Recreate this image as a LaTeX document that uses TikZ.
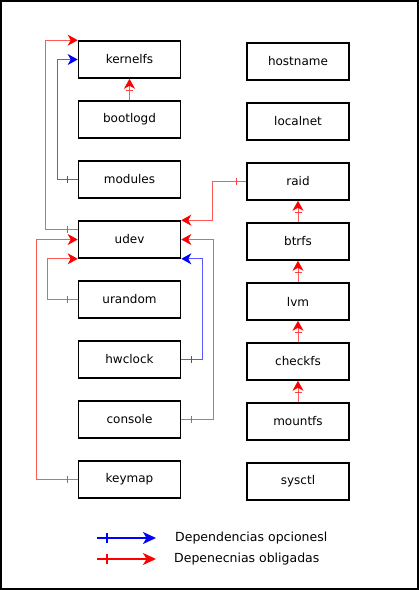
\documentclass[tikz,border=0pt]{standalone}
\usepackage{fontspec}
\setmainfont{DejaVu Sans}
\usetikzlibrary{arrows.meta,calc}
\definecolor{depRed}{HTML}{FF0000}
\definecolor{depBlue}{HTML}{0000FF}
\tikzset{
  box/.style={draw, line width=1.6pt, minimum width=102pt, minimum height=37pt,
    inner sep=0pt, font=\fontsize{12}{14}\selectfont},
  dep/.style={draw=#1!65, line width=1pt,
    -{Stealth[length=10pt,width=11pt,inset=3pt,color=#1]}},
  req/.style={dep=depRed},
  opt/.style={dep=depBlue},
  tick/.style={draw=#1!75, line width=1pt},
  legend/.style={draw=#1, line width=1.8pt, -{Stealth[length=13pt,width=12pt,inset=3.5pt,fill=#1]}},
  legtick/.style={draw=#1, line width=1.4pt}
}
\begin{document}
\begin{tikzpicture}[x=1pt,y=-1pt]
\useasboundingbox (0,0) rectangle (419,590);
\draw[line width=2pt] (1,1) rectangle (418,589);
% left column
\node[box] (kernelfs) at (129.5,59.5) {kernelfs};
\node[box] (bootlogd) at (129.5,119.5) {bootlogd};
\node[box] (modules)  at (129.5,179.5) {modules};
\node[box] (udev)     at (129.5,239.5) {udev};
\node[box] (urandom)  at (129.5,299.5) {urandom};
\node[box] (hwclock)  at (129.5,359.5) {hwclock};
\node[box] (console)  at (129.5,419.5) {console};
\node[box] (keymap)   at (129.5,479.5) {keymap};
% right column
\node[box] (hostname) at (298,61.5)  {hostname};
\node[box] (localnet) at (298,121.5) {localnet};
\node[box] (raid)     at (298,181.5) {raid};
\node[box] (btrfs)    at (298,241.5) {btrfs};
\node[box] (lvm)      at (298,301.5) {lvm};
\node[box] (checkfs)  at (298,361.5) {checkfs};
\node[box] (mountfs)  at (298,421.5) {mountfs};
\node[box] (sysctl)   at (298,481.5) {sysctl};
% dependencies
\coordinate (udevq) at ($(udev.north west)!.25!(udev.south west)$);
\draw[req] (bootlogd.north) -- (kernelfs.south);
\draw[opt] (modules.west) -- ++(-20,0) |- (kernelfs.west);
\draw[req] (udevq) -- ++(-32,0) |- (kernelfs.north west);
\draw[req] (urandom.west) -- ++(-30,0) |- (udev.south west);
\draw[req] (keymap.west) -- ++(-41,0) |- (udev.west);
\draw[opt] (hwclock.east) -- ++(21,0) |- (udev.south east);
\draw[req] (console.east) -- ++(32,0) |- (udev.east);
\draw[req] (raid.west) -- ++(-34,0) |- (udev.north east);
\draw[req] (btrfs.north) -- (raid.south);
\draw[req] (lvm.north) -- (btrfs.south);
\draw[req] (checkfs.north) -- (lvm.south);
\draw[req] (mountfs.north) -- (checkfs.south);
% tail ticks
\draw[tick=depBlue] ([xshift=-10pt]modules.west) +(0,-3.5) -- +(0,3.5);
\foreach \n in {urandom,keymap,raid}
  \draw[tick=depRed] ([xshift=-10pt]\n.west) +(0,-3.5) -- +(0,3.5);
\draw[tick=depRed] ([xshift=-10pt]udevq) +(0,-3.5) -- +(0,3.5);
\draw[tick=depBlue] ([xshift=10pt]hwclock.east) +(0,-3.5) -- +(0,3.5);
\draw[tick=depRed] ([xshift=10pt]console.east) +(0,-3.5) -- +(0,3.5);
\foreach \n in {bootlogd,btrfs,lvm,checkfs,mountfs}
  \draw[tick=depRed] ([yshift=10pt]\n.north) +(-3.5,0) -- +(3.5,0);
% legend
\coordinate (optA) at (97,538);   \coordinate (optB) at (156,538);
\coordinate (reqA) at (97,559);   \coordinate (reqB) at (156,559);
\draw[legend=depBlue] (optA) -- (optB);
\draw[legend=depRed] (reqA) -- (reqB);
\draw[legtick=depBlue] ([xshift=10pt]optA) +(0,-5) -- +(0,5);
\draw[legtick=depRed] ([xshift=10pt]reqA) +(0,-5) -- +(0,5);
\node[anchor=west, inner sep=0pt, font=\fontsize{12.5}{14}\selectfont] (optlab) at (175,538) {Dependencias opcionesl};
\node[anchor=west, inner sep=0pt, font=\fontsize{12.5}{14}\selectfont] (reqlab) at (174,559) {Depenecnias obligadas};
\end{tikzpicture}
\end{document}
